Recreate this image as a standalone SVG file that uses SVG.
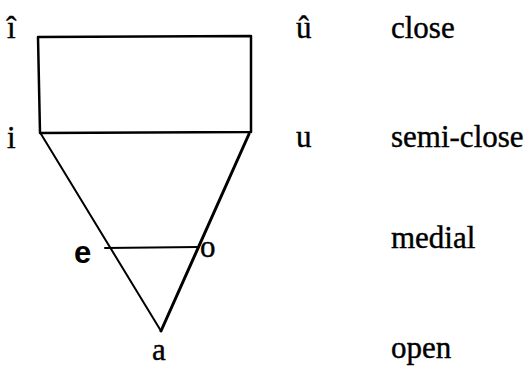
<svg xmlns="http://www.w3.org/2000/svg" width="530" height="373" viewBox="0 0 530 373">
<style>
.t{font-family:"Liberation Serif","Times New Roman",serif;font-size:31px;fill:#000;stroke:#000;stroke-width:0.4}
.h{font-family:"Liberation Sans",Arial,sans-serif;font-weight:bold;font-size:31px;fill:#000}
.ln{stroke:#000;fill:none;stroke-linecap:round;stroke-linejoin:round}
</style>
<rect width="530" height="373" fill="#fff"/>
<g id="connectors">
<path class="ln" stroke-width="2.5" d="M38 37 L251 36 L251 132 L40 133 Z"/>
<line class="ln" stroke-width="2" x1="41" y1="134" x2="161" y2="331"/>
<line class="ln" stroke-width="3" x1="249" y1="134" x2="161" y2="331"/>
<line class="ln" stroke-width="2" x1="105" y1="248" x2="199" y2="247"/>
</g>
<g id="n-i-hat"><text class="t" x="7" y="38">î</text></g>
<g id="n-u-hat"><text class="t" x="296" y="38">û</text></g>
<g id="n-i"><text class="t" x="7" y="148">i</text></g>
<g id="n-u"><text class="t" x="296" y="147">u</text></g>
<g id="n-e"><text class="h" x="74" y="263">e</text></g>
<g id="n-o"><text class="t" x="200" y="257">o</text></g>
<g id="n-a"><text class="t" x="152" y="360">a</text></g>
<g id="labels">
<text class="t" x="391" y="38">close</text>
<text class="t" x="391" y="147">semi-close</text>
<text class="t" x="391" y="248">medial</text>
<text class="t" x="391" y="358">open</text>
</g>
</svg>
